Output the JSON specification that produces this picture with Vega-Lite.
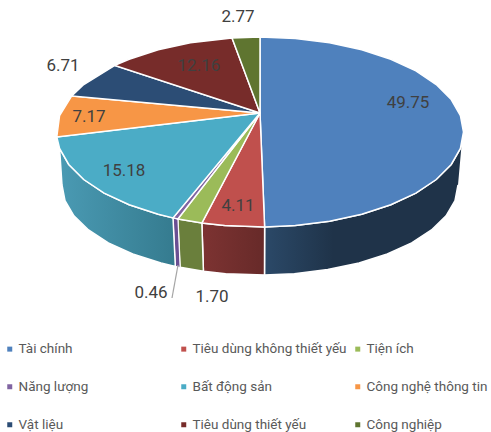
{"$schema":"https://vega.github.io/schema/vega-lite/v6.json","width":491,"height":432,"padding":0,"autosize":{"type":"none"},"background":"white","config":{"view":{"stroke":null},"text":{"font":"Roboto"}},
"datasets":{
"walls":[
{"s":"navy","i":0,"x":0.9903,"y":-0.1392},{"s":"navy","i":1,"x":0.9848,"y":-0.1736},{"s":"navy","i":2,"x":0.9397,"y":-0.342},{"s":"navy","i":3,"x":0.866,"y":-0.5},{"s":"navy","i":4,"x":0.766,"y":-0.6428},{"s":"navy","i":5,"x":0.6428,"y":-0.766},{"s":"navy","i":6,"x":0.5,"y":-0.866},{"s":"navy","i":7,"x":0.342,"y":-0.9397},{"s":"navy","i":8,"x":0.1736,"y":-0.9848},{"s":"navy","i":9,"x":0.0227,"y":-0.9997},{"s":"navy","i":10,"x":0.0221,"y":-1.505},{"s":"navy","i":11,"x":0.1689,"y":-1.4909},{"s":"navy","i":12,"x":0.3328,"y":-1.4482},{"s":"navy","i":13,"x":0.4865,"y":-1.3784},{"s":"navy","i":14,"x":0.6254,"y":-1.2836},{"s":"navy","i":15,"x":0.7453,"y":-1.1669},{"s":"navy","i":16,"x":0.8426,"y":-1.0316},{"s":"navy","i":17,"x":0.9143,"y":-0.8819},{"s":"navy","i":18,"x":0.9582,"y":-0.7224},{"s":"navy","i":19,"x":0.973,"y":-0.5579},
{"s":"maroon","i":0,"x":0.0227,"y":-0.9997},{"s":"maroon","i":1,"x":-0.1736,"y":-0.9848},{"s":"maroon","i":2,"x":-0.2857,"y":-0.9583},{"s":"maroon","i":3,"x":-0.278,"y":-1.4658},{"s":"maroon","i":4,"x":-0.1689,"y":-1.4909},{"s":"maroon","i":5,"x":0.0221,"y":-1.505},{"s":"maroon","i":6,"x":0.0227,"y":-0.9997},
{"s":"olive","i":0,"x":-0.2857,"y":-0.9583},{"s":"olive","i":1,"x":-0.4035,"y":-0.915},{"s":"olive","i":2,"x":-0.3926,"y":-1.4248},{"s":"olive","i":3,"x":-0.278,"y":-1.4658},{"s":"olive","i":4,"x":-0.2857,"y":-0.9583},
{"s":"purple","i":0,"x":-0.4035,"y":-0.915},{"s":"purple","i":1,"x":-0.4274,"y":-0.9041},{"s":"purple","i":2,"x":-0.4159,"y":-1.4144},{"s":"purple","i":3,"x":-0.3926,"y":-1.4248},{"s":"purple","i":4,"x":-0.4035,"y":-0.915},
{"s":"teal","i":0,"x":-0.4274,"y":-0.9041},{"s":"teal","i":1,"x":-0.5,"y":-0.866},{"s":"teal","i":2,"x":-0.6428,"y":-0.766},{"s":"teal","i":3,"x":-0.766,"y":-0.6428},{"s":"teal","i":4,"x":-0.866,"y":-0.5},{"s":"teal","i":5,"x":-0.9397,"y":-0.342},{"s":"teal","i":6,"x":-0.9848,"y":-0.1736},{"s":"teal","i":7,"x":-0.973,"y":-0.5579},{"s":"teal","i":8,"x":-0.9582,"y":-0.7224},{"s":"teal","i":9,"x":-0.9143,"y":-0.8819},{"s":"teal","i":10,"x":-0.8426,"y":-1.0316},{"s":"teal","i":11,"x":-0.7453,"y":-1.1669},{"s":"teal","i":12,"x":-0.6254,"y":-1.2836},{"s":"teal","i":13,"x":-0.4865,"y":-1.3784},{"s":"teal","i":14,"x":-0.4159,"y":-1.4144},{"s":"teal","i":15,"x":-0.4274,"y":-0.9041}
],
"slices":[
{"sector":"Tài chính","value":49.75,"i":0,"x":0,"y":0.2},{"sector":"Tài chính","value":49.75,"i":1,"x":0,"y":1},{"sector":"Tài chính","value":49.75,"i":2,"x":0.1736,"y":0.9848},{"sector":"Tài chính","value":49.75,"i":3,"x":0.342,"y":0.9397},{"sector":"Tài chính","value":49.75,"i":4,"x":0.5,"y":0.866},{"sector":"Tài chính","value":49.75,"i":5,"x":0.6428,"y":0.766},{"sector":"Tài chính","value":49.75,"i":6,"x":0.766,"y":0.6428},{"sector":"Tài chính","value":49.75,"i":7,"x":0.866,"y":0.5},{"sector":"Tài chính","value":49.75,"i":8,"x":0.9397,"y":0.342},{"sector":"Tài chính","value":49.75,"i":9,"x":0.9848,"y":0.1736},{"sector":"Tài chính","value":49.75,"i":10,"x":1,"y":0},{"sector":"Tài chính","value":49.75,"i":11,"x":0.9848,"y":-0.1736},{"sector":"Tài chính","value":49.75,"i":12,"x":0.9397,"y":-0.342},{"sector":"Tài chính","value":49.75,"i":13,"x":0.866,"y":-0.5},{"sector":"Tài chính","value":49.75,"i":14,"x":0.766,"y":-0.6428},{"sector":"Tài chính","value":49.75,"i":15,"x":0.6428,"y":-0.766},{"sector":"Tài chính","value":49.75,"i":16,"x":0.5,"y":-0.866},{"sector":"Tài chính","value":49.75,"i":17,"x":0.342,"y":-0.9397},{"sector":"Tài chính","value":49.75,"i":18,"x":0.1736,"y":-0.9848},{"sector":"Tài chính","value":49.75,"i":19,"x":0.0227,"y":-0.9997},{"sector":"Tài chính","value":49.75,"i":20,"x":0,"y":0.2},
{"sector":"Tiêu dùng không thiết yếu","value":4.11,"i":0,"x":0,"y":0.2},{"sector":"Tiêu dùng không thiết yếu","value":4.11,"i":1,"x":0.0227,"y":-0.9997},{"sector":"Tiêu dùng không thiết yếu","value":4.11,"i":2,"x":-0.1736,"y":-0.9848},{"sector":"Tiêu dùng không thiết yếu","value":4.11,"i":3,"x":-0.2857,"y":-0.9583},{"sector":"Tiêu dùng không thiết yếu","value":4.11,"i":4,"x":0,"y":0.2},
{"sector":"Tiện ích","value":1.7,"i":0,"x":0,"y":0.2},{"sector":"Tiện ích","value":1.7,"i":1,"x":-0.2857,"y":-0.9583},{"sector":"Tiện ích","value":1.7,"i":2,"x":-0.4035,"y":-0.915},{"sector":"Tiện ích","value":1.7,"i":3,"x":0,"y":0.2},
{"sector":"Năng lượng","value":0.46,"i":0,"x":0,"y":0.2},{"sector":"Năng lượng","value":0.46,"i":1,"x":-0.4035,"y":-0.915},{"sector":"Năng lượng","value":0.46,"i":2,"x":-0.4274,"y":-0.9041},{"sector":"Năng lượng","value":0.46,"i":3,"x":0,"y":0.2},
{"sector":"Bất động sản","value":15.18,"i":0,"x":0,"y":0.2},{"sector":"Bất động sản","value":15.18,"i":1,"x":-0.4274,"y":-0.9041},{"sector":"Bất động sản","value":15.18,"i":2,"x":-0.5,"y":-0.866},{"sector":"Bất động sản","value":15.18,"i":3,"x":-0.6428,"y":-0.766},{"sector":"Bất động sản","value":15.18,"i":4,"x":-0.766,"y":-0.6428},{"sector":"Bất động sản","value":15.18,"i":5,"x":-0.866,"y":-0.5},{"sector":"Bất động sản","value":15.18,"i":6,"x":-0.9397,"y":-0.342},{"sector":"Bất động sản","value":15.18,"i":7,"x":-0.9848,"y":-0.1736},{"sector":"Bất động sản","value":15.18,"i":8,"x":-0.9986,"y":-0.0523},{"sector":"Bất động sản","value":15.18,"i":9,"x":0,"y":0.2},
{"sector":"Công nghệ thông tin","value":7.17,"i":0,"x":0,"y":0.2},{"sector":"Công nghệ thông tin","value":7.17,"i":1,"x":-0.9986,"y":-0.0523},{"sector":"Công nghệ thông tin","value":7.17,"i":2,"x":-0.9848,"y":0.1736},{"sector":"Công nghệ thông tin","value":7.17,"i":3,"x":-0.9252,"y":0.3795},{"sector":"Công nghệ thông tin","value":7.17,"i":4,"x":0,"y":0.2},
{"sector":"Vật liệu","value":6.71,"i":0,"x":0,"y":0.2},{"sector":"Vật liệu","value":6.71,"i":1,"x":-0.9252,"y":0.3795},{"sector":"Vật liệu","value":6.71,"i":2,"x":-0.866,"y":0.5},{"sector":"Vật liệu","value":6.71,"i":3,"x":-0.7133,"y":0.7009},{"sector":"Vật liệu","value":6.71,"i":4,"x":0,"y":0.2},
{"sector":"Tiêu dùng thiết yếu","value":12.16,"i":0,"x":0,"y":0.2},{"sector":"Tiêu dùng thiết yếu","value":12.16,"i":1,"x":-0.7133,"y":0.7009},{"sector":"Tiêu dùng thiết yếu","value":12.16,"i":2,"x":-0.6428,"y":0.766},{"sector":"Tiêu dùng thiết yếu","value":12.16,"i":3,"x":-0.5,"y":0.866},{"sector":"Tiêu dùng thiết yếu","value":12.16,"i":4,"x":-0.342,"y":0.9397},{"sector":"Tiêu dùng thiết yếu","value":12.16,"i":5,"x":-0.1374,"y":0.9905},{"sector":"Tiêu dùng thiết yếu","value":12.16,"i":6,"x":0,"y":0.2},
{"sector":"Công nghiệp","value":2.77,"i":0,"x":0,"y":0.2},{"sector":"Công nghiệp","value":2.77,"i":1,"x":-0.1374,"y":0.9905},{"sector":"Công nghiệp","value":2.77,"i":2,"x":0,"y":1},{"sector":"Công nghiệp","value":2.77,"i":3,"x":0,"y":0.2}
],
"labels":[
{"sector":"Tài chính","value":49.75,"x":0.7273,"y":0.3053},{"sector":"Tiêu dùng không thiết yếu","value":4.11,"x":-0.1081,"y":-0.7789},{"sector":"Tiện ích","value":1.7,"x":-0.2358,"y":-1.7368},{"sector":"Năng lượng","value":0.46,"x":-0.5356,"y":-1.6947},{"sector":"Bất động sản","value":15.18,"x":-0.6684,"y":-0.4105},{"sector":"Công nghệ thông tin","value":7.17,"x":-0.8403,"y":0.1579},{"sector":"Vật liệu","value":6.71,"x":-0.968,"y":0.6947},{"sector":"Tiêu dùng thiết yếu","value":12.16,"x":-0.3002,"y":0.6947},{"sector":"Công nghiệp","value":2.77,"x":-0.1081,"y":1.2105}
],
"leader":[{"i":0,"x":-0.4324,"y":-1.7474},{"i":1,"x":-0.4029,"y":-1.3999}]
},
"data":{"name":"slices"},
"encoding":{
"x":{"field":"x","type":"quantitative","axis":null,"scale":{"domain":[-1.2776,1.1351],"nice":false,"zero":false}},
"y":{"field":"y","type":"quantitative","axis":null,"scale":{"domain":[-3.1579,1.3895],"nice":false,"zero":false}}
},
"layer":[
{"data":{"name":"walls"},"transform":[{"filter":"datum.s==='navy'"}],"mark":{"type":"line","filled":true,"stroke":"white","strokeWidth":1.5,"clip":false,"fill":{"x1":0,"y1":0,"x2":1,"y2":0,"gradient":"linear","stops":[{"offset":0,"color":"#2b4968"},{"offset":0.35,"color":"#1f3349"},{"offset":1,"color":"#1f3349"}]}},"encoding":{"order":{"field":"i","type":"quantitative"}}},
{"data":{"name":"walls"},"transform":[{"filter":"datum.s==='maroon'"}],"mark":{"type":"line","filled":true,"stroke":"white","strokeWidth":1.5,"fill":{"x1":0,"y1":0,"x2":1,"y2":0,"gradient":"linear","stops":[{"offset":0,"color":"#7d3332"},{"offset":1,"color":"#672a29"}]}},"encoding":{"order":{"field":"i","type":"quantitative"}}},
{"data":{"name":"walls"},"transform":[{"filter":"datum.s==='olive'"}],"mark":{"type":"line","filled":true,"stroke":"white","strokeWidth":1.5,"fill":"#6a7f3c"},"encoding":{"order":{"field":"i","type":"quantitative"}}},
{"data":{"name":"walls"},"transform":[{"filter":"datum.s==='purple'"}],"mark":{"type":"line","filled":true,"stroke":"white","strokeWidth":1,"fill":"#6a4f93"},"encoding":{"order":{"field":"i","type":"quantitative"}}},
{"data":{"name":"walls"},"transform":[{"filter":"datum.s==='teal'"}],"mark":{"type":"line","filled":true,"stroke":"white","strokeWidth":1.5,"fill":{"x1":0,"y1":0,"x2":1,"y2":0,"gradient":"linear","stops":[{"offset":0,"color":"#4a9ab3"},{"offset":1,"color":"#357b8f"}]}},"encoding":{"order":{"field":"i","type":"quantitative"}}},
{"mark":{"type":"line","filled":true,"stroke":"white","strokeWidth":1.5},"encoding":{
"order":{"field":"i","type":"quantitative"},
"color":{"field":"sector","type":"nominal","sort":null,"scale":{"domain":["Tài chính","Tiêu dùng không thiết yếu","Tiện ích","Năng lượng","Bất động sản","Công nghệ thông tin","Vật liệu","Tiêu dùng thiết yếu","Công nghiệp"],"range":["#4f81bd","#c0504d","#9bbb59","#8064a2","#4bacc6","#f79646","#2c4d75","#772c2a","#5f7530"]},
"legend":{"orient":"none","legendX":3,"legendY":342,"title":null,"columns":3,"direction":"horizontal","gridAlign":"all","symbolType":"square","symbolSize":25,"symbolStrokeWidth":0,"labelFont":"Roboto","labelFontSize":13.5,"labelColor":"#595959","rowPadding":23,"columnPadding":4,"labelLimit":300,"labelOffset":2}}
}},
{"data":{"name":"leader"},"mark":{"type":"line","color":"#a6a6a6","strokeWidth":1.25},"encoding":{"order":{"field":"i","type":"quantitative"}}},
{"data":{"name":"labels"},"mark":{"type":"text","fontSize":17,"color":"#404040","align":"center","baseline":"middle"},"encoding":{"text":{"field":"value","type":"quantitative","format":".2f"}}}
]}
